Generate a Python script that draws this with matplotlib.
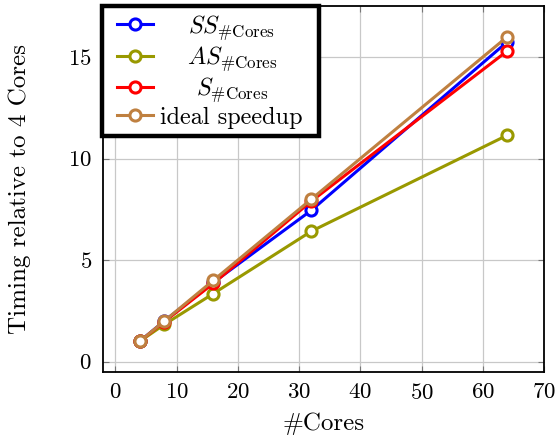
import matplotlib
matplotlib.use('Agg')
import matplotlib.pyplot as plt
from matplotlib.offsetbox import VPacker, DrawingArea

plt.rcParams['font.family'] = 'cmr10'
plt.rcParams['mathtext.fontset'] = 'cm'
plt.rcParams['axes.formatter.use_mathtext'] = True

# ----- data ----- #
cores = [4, 8, 16, 32, 64]
ss = [1.0, 2.0, 3.9, 7.45, 15.75]
as_ = [1.0, 1.83, 3.35, 6.42, 11.15]
s = [1.0, 1.97, 3.85, 7.9, 15.3]
ideal = [1.0, 2.0, 4.0, 8.0, 16.0]

series = [
    (ss, 'blue', r'$SS_{\#\mathrm{Cores}}$'),
    (as_, '#999900', r'$AS_{\#\mathrm{Cores}}$'),
    (s, 'red', r'$S_{\#\mathrm{Cores}}$'),
    (ideal, '#bf8040', 'ideal speedup'),
]

fig = plt.figure(figsize=(5.57, 4.40), dpi=100)
ax = fig.add_axes([0.185, 0.155, 0.792, 0.831])

for vals, col, lab in series:
    ax.plot(cores, vals, color=col, linewidth=2.2, marker='o', markersize=8,
            markerfacecolor='white', markeredgewidth=2.2, label=lab)

ax.set_xlim(-2, 70)
ax.set_ylim(-0.5, 17.5)
ax.set_xticks(range(0, 71, 10))
ax.set_yticks([0, 5, 10, 15])
ax.grid(True, color='#c8c8c8', linewidth=0.9)
ax.set_axisbelow(True)
ax.tick_params(direction='in', top=True, right=True, labelsize=16.5, length=4,
               color='#777777', pad=8)
for sp in ax.spines.values():
    sp.set_linewidth(1.3)

ax.set_xlabel('#Cores', fontsize=18)
ax.set_ylabel('Timing relative to 4 Cores', fontsize=18)
ax.yaxis.set_label_coords(-0.163, 0.5)
ax.xaxis.set_label_coords(0.5, -0.11)

leg = ax.legend(loc='upper left', bbox_to_anchor=(-0.002, 1.0), fontsize=17.5,
                fancybox=False, framealpha=1, edgecolor='black', handlelength=1.5,
                borderpad=0.3, labelspacing=0.1, handletextpad=0.3,
                borderaxespad=0.0)
leg.get_frame().set_linewidth(3.2)

# centre the legend texts in a common column, like pgfplots
fig.canvas.draw()
rend = fig.canvas.get_renderer()
maxw = max(t.get_window_extent(rend).width for t in leg.get_texts()) * 72 / fig.dpi
for col in leg._legend_handle_box.get_children():
    for row in col.get_children():
        h, t = row.get_children()
        row._children = [DrawingArea(0, 0), h,
                         VPacker(pad=0, sep=0, align='center',
                                 children=[t, DrawingArea(maxw, 0)]),
                         DrawingArea(1, 0)]

fig.savefig('out.png', dpi=100)
